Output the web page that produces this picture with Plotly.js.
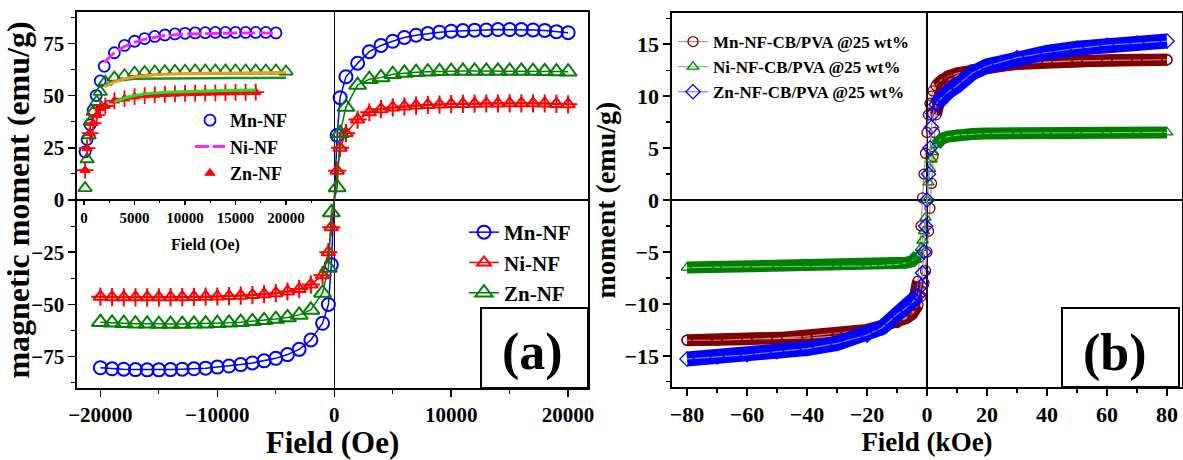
<!DOCTYPE html>
<html><head><meta charset="utf-8">
<script src="https://cdn.plot.ly/plotly-3.0.1.min.js"></script>
<style>html,body{margin:0;padding:0;background:#fff}</style>
</head><body><div id="chart" style="width:1183px;height:460px"></div>
<script>
// ---------- Panel (a) main loop (Field in Oe, moment in emu/g) ----------
const fieldA = [-20000,-19000,-18000,-17000,-16000,-15000,-14000,-13000,-12000,-11000,-10000,-9000,-8000,-7000,-6000,-5000,-4000,-3000,-2000,-1000,-500,-250,250,500,1000,2000,3000,4000,5000,6000,7000,8000,9000,10000,11000,12000,13000,14000,15000,16000,17000,18000,19000,20000];
const mnA = [-80.3,-80.8,-81.0,-81.2,-81.3,-81.3,-81.2,-81.0,-80.8,-80.5,-80.0,-79.5,-78.8,-78.0,-77.0,-75.8,-74.0,-71.5,-67.0,-59.0,-50,-31,31,49,59,65.5,71,74,76,77.8,78.9,79.7,80.3,80.8,81.1,81.3,81.4,81.6,81.6,81.6,81.4,81.2,80.6,80.1];
const niA = [-46.3,-46.5,-46.6,-46.6,-46.6,-46.6,-46.5,-46.5,-46.4,-46.3,-46.2,-46.0,-45.8,-45.5,-45.1,-44.6,-43.8,-42.6,-40.5,-36.0,-25,-13,14,25,32,38.5,42,43.5,44.3,44.8,45.2,45.5,45.7,45.9,46.0,46.1,46.2,46.2,46.3,46.3,46.3,46.2,46.0,45.8];
const znA = [-58.5,-58.8,-59.0,-59.2,-59.3,-59.4,-59.4,-59.4,-59.3,-59.2,-59.0,-58.8,-58.5,-58.1,-57.6,-57.0,-56.2,-55.0,-52.6,-44.5,-32.5,-6,6,32,44.5,55,57.8,58.7,60.2,60.8,61.2,61.4,61.6,61.7,61.8,61.8,61.8,61.8,61.8,61.8,61.7,61.6,61.5,61.4];
const seriesA = ['Mn-NF','Ni-NF','Zn-NF'];

// ---------- Panel (a) inset ----------
const inBlueX = [100,300,600,900,1200,1600,2000,3000,4000,5000,6000,7000,8000,9000,10000,11000,12000,13000,14000,15000,16000,17000,18000,19000];
const inBlueY = [23,29,36,43,50,57,64,70.5,74,76,77.3,78.3,79,79.5,79.8,80,80.1,80.2,80.2,80.2,80.2,80.2,80.2,80.0];
const inMagX = [2000,3000,4000,5000,6000,7000,8000,10000,12000,15000,19000];
const inMagY = [66,70.5,73.5,75.5,77,78,78.7,79.4,79.7,80,80];
const inGreenX = [100,300,500,600,900,1250,1600,2100,3000,4000,5000,6000,7000,8000,9000,10000,11000,12000,13000,14000,15000,16000,17000,18000,19000,20000];
const inGreenY = [5.7,19.5,31,37.4,42.2,47,51.8,56.6,58.6,59.7,60.9,61.3,61.5,61.7,61.8,61.9,62,62,62,62,62,62,62,62,62,61.5];
const inDkGreenX = [2000,3000,5000,10000,15000,20000];
const inDkGreenY = [55,57,58,58.3,58.4,58.5];
const inOrangeX = [2000,3000,4000,5000,7000,10000,15000,20000];
const inOrangeY = [54.2,56.5,58,59,60,60.5,60.8,61];
const inRedX = [100,300,600,900,1250,1600,2100,3000,4000,5000,6000,7000,8000,9000,10000,11000,12000,13000,14000,15000,16000,17000];
const inRedY = [14.3,24.8,32,36.8,40.6,44,45,47.5,48.5,49.5,50,50.3,50.6,50.8,51,51.1,51.2,51.3,51.4,51.5,51.5,51.6];
const inLimeX = [3000,4000,5000,6000,8000,10000,13000,17000];
const inLimeY = [47,48.8,50,50.8,51.6,52,52.3,52.6];
const insetNames = ['Mn-NF','Ni-NF','Zn-NF'];

// ---------- Panel (b) (Field in kOe) ----------
const mnDescX = [80,70,60,50,40,30,20,15,10,7,5,4,3,2,1.5,1,0.5,0,-0.5,-1,-1.5,-2,-2.5,-3,-3.5,-4,-5,-7,-10,-15,-20,-30,-40,-50,-60,-70,-80];
const mnDescY = [13.5,13.5,13.45,13.4,13.3,13.15,12.8,12.55,12.2,11.9,11.6,11.35,11.0,10.5,10.0,9.3,8.2,6.5,4.5,2.5,0.2,-2.5,-5.5,-7.8,-9.2,-10.0,-10.8,-11.3,-11.7,-12.1,-12.5,-12.8,-13.1,-13.3,-13.4,-13.5,-13.5];
const mnAscX = [-80,-70,-60,-50,-40,-30,-20,-15,-10,-7,-5,-4,-3,-2,-1.5,-1,-0.5,0,0.5,1,1.5,2,2.5,3,3.5,4,5,7,10,15,20,30,40,50,60,70,80];
const mnAscY = [-13.5,-13.5,-13.4,-13.35,-13.3,-13.1,-12.6,-12.2,-11.8,-11.4,-11.0,-10.6,-10.1,-9.3,-8.8,-8.0,-6.8,-5.0,-3.0,-0.8,1.6,4.2,6.5,8.2,9.3,10.0,10.8,11.5,12.0,12.4,12.8,13.1,13.3,13.4,13.45,13.5,13.5];
const fieldB = [-80,-70,-60,-50,-40,-30,-20,-15,-10,-7,-5,-4,-3,-2,-1.5,-1,-0.5,0,0.5,1,1.5,2,3,4,5,7,10,15,20,30,40,50,60,70,80];
const niB = [-6.5,-6.45,-6.45,-6.4,-6.4,-6.4,-6.35,-6.3,-6.2,-6.05,-5.9,-5.7,-5.3,-4.6,-3.9,-3.0,-1.7,0,1.7,3.0,3.9,4.6,5.3,5.7,5.9,6.1,6.25,6.35,6.4,6.45,6.45,6.5,6.5,6.5,6.5];
const znB = [-15.3,-15.1,-14.9,-14.6,-14.3,-13.8,-13.0,-12.3,-11.0,-10.4,-9.9,-9.6,-9.2,-8.3,-7.0,-5.0,-2.5,0,2.5,5.0,7.0,8.3,9.2,9.6,9.9,10.4,11.0,12.2,12.9,13.7,14.2,14.6,14.9,15.1,15.3];
const seriesB = ['Mn-NF-CB/PVA @25 wt%','Ni-NF-CB/PVA @25 wt%','Zn-NF-CB/PVA @25 wt%'];

// ---------- styling ----------
const FF = 'Liberation Serif';
const fnt = (s) => ({family: FF, size: s, color: '#000', weight: 'bold'});
const BLUE='#0000FF', RED='#FF0000', GREEN='#008000';
const MAROON='#800000', GRN_B='#008000', BLUE_B='#0000FF';

const traces = [];
// main (a)
traces.push({x: fieldA, y: mnA, name: seriesA[0], xaxis:'x', yaxis:'y', mode:'lines+markers', legend:'legend',
  line:{color:BLUE, width:1.5}, marker:{symbol:'circle-open', size:13, color:BLUE, line:{width:2}}});
traces.push({x: fieldA, y: niA, name: seriesA[1], xaxis:'x', yaxis:'y', mode:'lines+markers', legend:'legend',
  line:{color:RED, width:1.5}, marker:{symbol:'triangle-up-open', size:12, color:RED, line:{width:2}}});
traces.push({x: fieldA, y: niA, name: seriesA[1]+' cross', showlegend:false, xaxis:'x', yaxis:'y', mode:'markers',
  marker:{symbol:'cross-thin-open', size:13, color:RED, line:{width:2, color:RED}}});
traces.push({x: fieldA, y: znA, name: seriesA[2], xaxis:'x', yaxis:'y', mode:'lines+markers', legend:'legend',
  line:{color:GREEN, width:1.5}, marker:{symbol:'triangle-up-open', size:15, color:GREEN, line:{width:2}}});

// inset (a)
traces.push({x: inBlueX, y: inBlueY, name: insetNames[0], xaxis:'x3', yaxis:'y', mode:'markers', legend:'legend2',
  marker:{symbol:'circle-open', size:11, color:BLUE, line:{width:1.8}}});
traces.push({x: inMagX, y: inMagY, name: insetNames[1], xaxis:'x3', yaxis:'y', mode:'lines', legend:'legend2',
  line:{color:'#FF22FF', width:3, dash:'14px,4px'}});
traces.push({x: inGreenX, y: inGreenY, name:'inset green', showlegend:false, xaxis:'x3', yaxis:'y', mode:'markers',
  marker:{symbol:'triangle-up-open', size:12, color:GREEN, line:{width:1.8}}});
traces.push({x: inDkGreenX, y: inDkGreenY, name:'inset dark green', showlegend:false, xaxis:'x3', yaxis:'y', mode:'lines',
  line:{color:'#1f8a1f', width:2.5}});
traces.push({x: inOrangeX, y: inOrangeY, name:'inset orange', showlegend:false, xaxis:'x3', yaxis:'y', mode:'lines',
  line:{color:'#F39A1A', width:3}});
traces.push({x: inRedX, y: inRedY, name: insetNames[2], xaxis:'x3', yaxis:'y', mode:'markers', legend:'legend2',
  marker:{symbol:'triangle-up', size:9, color:RED, line:{width:1, color:RED}}});
traces.push({x: inRedX, y: inRedY, name:'inset red cross', showlegend:false, xaxis:'x3', yaxis:'y', mode:'markers',
  marker:{symbol:'cross-thin-open', size:12, color:RED, line:{width:1.8, color:RED}}});
traces.push({x: inLimeX, y: inLimeY, name:'inset lime', showlegend:false, xaxis:'x3', yaxis:'y', mode:'lines',
  line:{color:'#22E022', width:3}});

// panel (b): thick bands (saturated parts) + open markers
function band(xs, ys, color, name, w){
  const yb = ys.map((v,i) => Math.abs(xs[i]) >= 3 ? v : null);
  return {x: xs, y: yb, name: name+' band', showlegend:false, xaxis:'x2', yaxis:'y2', mode:'lines',
    connectgaps:false, line:{color: color, width: w}};
}
function mk(xs, ys, color, lcolor, sym, name, sz){
  return {x: xs, y: ys, name: name, showlegend: true, legend:'legend3', xaxis:'x2', yaxis:'y2', mode:'lines+markers',
    line:{color: lcolor, width: 1.2}, marker:{symbol: sym, size: sz, color: color, line:{width: 1.3, color: color}}};
}
const mnLoopX = mnDescX.concat(mnAscX), mnLoopY = mnDescY.concat(mnAscY);
traces.push(band(mnLoopX, mnLoopY, MAROON, seriesB[0], 12));
traces.push(mk(mnLoopX, mnLoopY, MAROON, '#c98a8a', 'circle-open', seriesB[0], 10));
traces.push(band(fieldB, niB, GRN_B, seriesB[1], 12));
traces.push(mk(fieldB, niB, GRN_B, '#7cc47c', 'triangle-up-open', seriesB[1], 10));
traces.push(band(fieldB, znB, BLUE_B, seriesB[2], 15));
traces.push(mk(fieldB, znB, BLUE_B, '#8080ff', 'diamond-open', seriesB[2], 11));

const axBase = {showline:true, linecolor:'#000', linewidth:1.6, mirror:true, ticks:'outside', tickcolor:'#000',
  tickwidth:1.5, showgrid:false, zeroline:true, zerolinecolor:'#000', zerolinewidth:1.2,
  tickformat:'d', exponentformat:'none'};

const layout = {
  width:1183, height:460, margin:{l:0, r:0, t:12, b:72},
  paper_bgcolor:'#fff', plot_bgcolor:'rgba(0,0,0,0)',
  xaxis: Object.assign({}, axBase, {domain:[77/1183, 588/1183], anchor:'y', range:[-22000, 21700],
    tickvals:[-20000,-10000,0,10000,20000], ticklen:7, tickfont:fnt(21),
    minor:{tickvals:[-15000,-5000,5000,15000], ticklen:4, ticks:'outside', tickcolor:'#000', tickwidth:1.2},
    title:{text:'Field (Oe)', font:fnt(31), standoff:7}}),
  yaxis: Object.assign({}, axBase, {domain:[0,1], anchor:'x', range:[-90, 90],
    tickvals:[-75,-50,-25,0,25,50,75], ticklen:7, tickfont:fnt(21),
    minor:{tickvals:[-87.5,-62.5,-37.5,-12.5,12.5,37.5,62.5,87.5], ticklen:4, ticks:'outside', tickcolor:'#000', tickwidth:1.2},
    title:{text:'magnetic moment (emu/g)', font:fnt(32), standoff:6}}),
  xaxis3: {domain:[77/1183, 334/1183], anchor:'free', position:0.5, range:[-700, 24750],
    showline:false, zeroline:false, showgrid:false, ticks:'outside', ticklen:4, tickcolor:'#000', tickwidth:1.2,
    tickvals:[0,5000,10000,15000,20000], tickfont:fnt(15), tickformat:'d', exponentformat:'none',
    minor:{tickvals:[2500,7500,12500,17500,22500], ticklen:2, ticks:'outside', tickcolor:'#000'},
    title:{text:'Field (Oe)', font:fnt(16), standoff:13}},
  xaxis2: Object.assign({}, axBase, {domain:[672/1183, 1182/1183], anchor:'y2', range:[-85, 85],
    tickvals:[-80,-60,-40,-20,0,20,40,60,80], ticklen:7, tickfont:fnt(22),
    minor:{tickvals:[-70,-50,-30,-10,10,30,50,70], ticklen:4, ticks:'outside', tickcolor:'#000', tickwidth:1.2},
    title:{text:'Field (kOe)', font:fnt(27), standoff:4}}),
  yaxis2: Object.assign({}, axBase, {domain:[1/376, 375/376], anchor:'x2', range:[-18, 18],
    tickvals:[-15,-10,-5,0,5,10,15], ticklen:7, tickfont:fnt(22),
    minor:{tickvals:[-17.5,-12.5,-7.5,-2.5,2.5,7.5,12.5,17.5], ticklen:4, ticks:'outside', tickcolor:'#000', tickwidth:1.2},
    title:{text:'moment (emu/g)', font:fnt(28), standoff:0}}),
  legend: {x:464/1183, y:(388-212)/376, xanchor:'left', yanchor:'top', bgcolor:'rgba(0,0,0,0)', borderwidth:0,
    font:fnt(21), itemwidth:30, tracegroupgap:0},
  legend2: {x:190/1183, y:(388-102)/376, xanchor:'left', yanchor:'top', bgcolor:'rgba(0,0,0,0)', borderwidth:0,
    font:fnt(18), itemwidth:30},
  legend3: {x:673/1183, y:(388-24)/376, xanchor:'left', yanchor:'top', bgcolor:'rgba(0,0,0,0)', borderwidth:0,
    font:fnt(17), itemwidth:30},
  shapes: [
    {type:'rect', xref:'paper', yref:'paper', x0:481/1183, x1:588/1183, y0:0, y1:(388-308)/376, line:{color:'#000', width:2}, fillcolor:'#fff'},
    {type:'rect', xref:'paper', yref:'paper', x0:1062/1183, x1:1179/1183, y0:1/376, y1:(388-308)/376, line:{color:'#000', width:2}, fillcolor:'#fff'}
  ],
  annotations: [
    {text:'(a)', xref:'paper', yref:'paper', x:532/1183, y:(388-352)/376, showarrow:false, font:fnt(52), xanchor:'center', yanchor:'middle'},
    {text:'(b)', xref:'paper', yref:'paper', x:1115/1183, y:(388-353)/376, showarrow:false, font:fnt(52), xanchor:'center', yanchor:'middle'}
  ],
  showlegend:true
};

Plotly.newPlot('chart', traces, layout, {displayModeBar:false, staticPlot:true});
</script>
</body></html>
